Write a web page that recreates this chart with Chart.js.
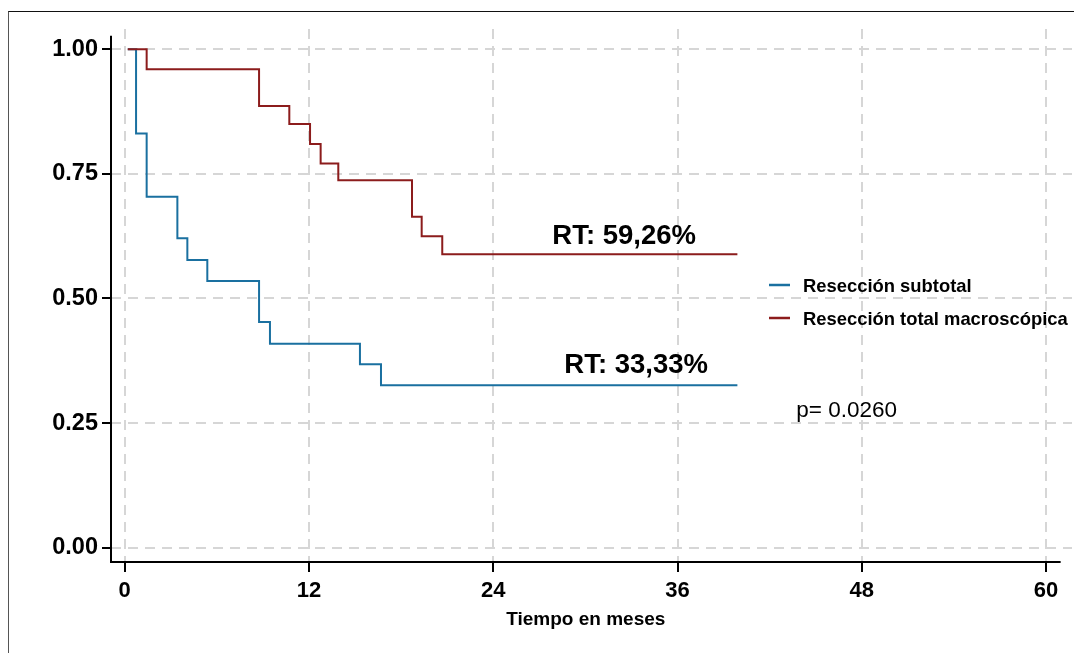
<!DOCTYPE html>
<html>
<head>
<meta charset="utf-8">
<script src="https://cdn.jsdelivr.net/npm/chart.js@4/dist/chart.umd.min.js"></script>
<style>
    body { margin: 0; background: #fff; overflow: hidden; }
    #wrap { position: relative; width: 1074px; height: 653px; }
    #frame {
        position: absolute; left: 8px; top: 11px; width: 1100px; height: 700px;
        border-top: 1.5px solid #111; border-left: 1px solid #555;
        pointer-events: none;
    }
</style>
</head>
<body>
<div id="wrap">
    <canvas id="chart" width="1074" height="653"></canvas>
    <div id="frame"></div>
</div>
<script>
// Kaplan-Meier curves (months, survival)
const subtotalTimes = [0.2, 0.74, 1.43, 3.43, 4.08, 5.38, 8.75, 9.46, 15.32, 16.69, 39.9];
const subtotalSurv  = [1.00, 0.831, 0.704, 0.621, 0.577, 0.535, 0.453, 0.409, 0.368, 0.326, 0.326];

const totalTimes = [0.2, 1.43, 8.75, 10.72, 12.07, 12.76, 13.91, 18.71, 19.34, 20.68, 39.9];
const totalSurv  = [1.00, 0.960, 0.886, 0.850, 0.810, 0.771, 0.737, 0.664, 0.625, 0.589, 0.589];

const seriesNames = ['Resección subtotal', 'Resección total macroscópica'];
const seriesColors = ['#1a70a0', '#8c1c1c'];

const xTicks = [0, 12, 24, 36, 48, 60];
const xTickLabels = ['0', '12', '24', '36', '48', '60'];
const yTicks = [0, 0.25, 0.5, 0.75, 1];
const yTickLabels = ['0.00', '0.25', '0.50', '0.75', '1.00'];

const xTitle = 'Tiempo en meses';
const notes = [
    { text: 'RT: 59,26%', x: 696, y: 244, font: 'bold 27.5px "Liberation Sans", Arial' },
    { text: 'RT: 33,33%', x: 708, y: 373, font: 'bold 27.5px "Liberation Sans", Arial' },
    { text: 'p= 0.0260', x: 897, y: 417, font: '22.5px "Liberation Sans", Arial' }
];

const FONT = '"Liberation Sans", Arial, sans-serif';

function toPoints(xs, ys) {
    return xs.map(function(x, i) { return { x: x, y: ys[i] }; });
}

const extras = {
    id: 'extras',
    afterDraw: function(chart) {
        const ctx = chart.ctx;
        const xs = chart.scales.x;
        const ys = chart.scales.y;
        const area = chart.chartArea;

        // axis lines (shorter than the plot area, as in the original)
        ctx.save();
        ctx.strokeStyle = '#000';
        ctx.lineWidth = 2;
        ctx.beginPath();
        ctx.moveTo(area.left, ys.getPixelForValue(1.027));
        ctx.lineTo(area.left, area.bottom);
        ctx.lineTo(xs.getPixelForValue(60.95), area.bottom);
        ctx.stroke();

        // x axis title, centred on the axis line
        const mid = (area.left + xs.getPixelForValue(60.95)) / 2;
        ctx.fillStyle = '#000';
        ctx.font = 'bold 19px ' + FONT;
        ctx.textAlign = 'center';
        ctx.textBaseline = 'alphabetic';
        ctx.fillText(xTitle, mid, 625);

        // annotations
        ctx.textAlign = 'right';
        notes.forEach(function(n) {
            ctx.font = n.font;
            ctx.fillText(n.text, n.x, n.y);
        });

        // legend
        ctx.textAlign = 'left';
        ctx.font = 'bold 18.4px ' + FONT;
        chart.data.datasets.forEach(function(ds, i) {
            const y = 285 + i * 33;
            ctx.strokeStyle = ds.borderColor;
            ctx.lineWidth = 2.5;
            ctx.beginPath();
            ctx.moveTo(769, y);
            ctx.lineTo(790, y);
            ctx.stroke();
            ctx.fillText(ds.label, 803, y + 6.5);
        });
        ctx.restore();
    }
};

new Chart(document.getElementById('chart'), {
    type: 'line',
    data: {
        datasets: [
            {
                label: seriesNames[0],
                data: toPoints(subtotalTimes, subtotalSurv),
                borderColor: seriesColors[0],
                borderWidth: 2,
                stepped: 'before',
                pointRadius: 0,
                fill: false,
                order: 1
            },
            {
                label: seriesNames[1],
                data: toPoints(totalTimes, totalSurv),
                borderColor: seriesColors[1],
                borderWidth: 2,
                stepped: 'before',
                pointRadius: 0,
                fill: false,
                order: 0
            }
        ]
    },
    options: {
        responsive: false,
        animation: false,
        devicePixelRatio: 1,
        layout: { padding: { left: 0, top: 29, right: 2, bottom: 0 } },
        plugins: { legend: { display: false }, tooltip: { enabled: false } },
        scales: {
            x: {
                type: 'linear',
                min: -0.892,
                max: 61.69,
                afterBuildTicks: function(s) { s.ticks = xTicks.map(function(v) { return { value: v }; }); },
                afterFit: function(s) { s.height = 91; },
                border: { display: false, dash: [10, 7] },
                grid: { color: '#d6d6d6', lineWidth: 2, tickColor: '#000', tickWidth: 2, tickLength: 10 },
                ticks: {
                    autoSkip: false, maxRotation: 0, padding: 6, color: '#000',
                    font: { family: FONT, size: 22, weight: 'bold' },
                    callback: function(v, i) { return xTickLabels[i]; }
                }
            },
            y: {
                min: -0.0287,
                max: 1.0407,
                afterBuildTicks: function(s) { s.ticks = yTicks.map(function(v) { return { value: v }; }); },
                afterFit: function(s) { s.width = 111; },
                border: { display: false, dash: [10, 7] },
                grid: { color: '#d6d6d6', lineWidth: 2, tickColor: '#000', tickWidth: 2, tickLength: 9 },
                ticks: {
                    autoSkip: false, padding: 4, color: '#000',
                    font: { family: FONT, size: 23.5, weight: 'bold' },
                    callback: function(v, i) { return yTickLabels[i]; }
                }
            }
        }
    },
    plugins: [extras]
});
</script>
</body>
</html>
